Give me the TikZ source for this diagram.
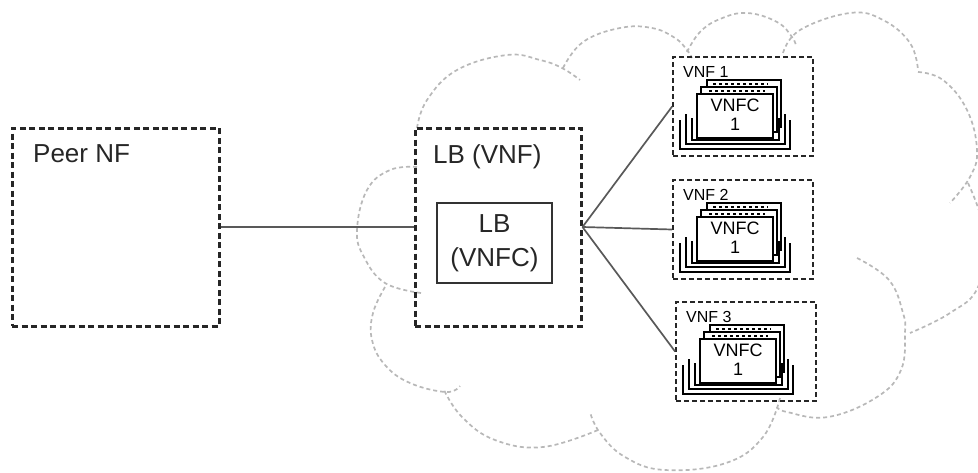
\documentclass[tikz,border=0pt]{standalone}
\usepackage{fontspec}
\setmainfont{Liberation Sans}
\newcommand\bigfont{\fontsize{26}{34}\selectfont}
\newcommand\vnffont{\fontsize{16}{18}\selectfont}
\newcommand\vnfcfont{\fontsize{18}{19}\selectfont}
\newcommand\vnfunit[4]{%
  \node[vnfbox] (#1) at (#2+70,#3+49.5) {};
  \begin{scope}[shift={(#2,#3)}]
    \draw[card] (34,23) rectangle (108,70);
    \draw[card] (28,30) rectangle (104,75);
    \draw[frag] (40,27) -- (95,27);
    \draw[frag] (36,34) -- (92,34);
    \draw[card] (24,37) rectangle (100,81);
    \draw[tray] (19,61) -- (19,83) -- (106,83) -- (106,61);
    \draw[tray] (13,57) -- (13,87) -- (112,87) -- (112,57);
    \draw[tray] (7,63) -- (7,92) -- (117,92) -- (117,63);
    \node[anchor=base west, font=\vnffont, inner sep=0pt] (#1-label) at (10,20) {VNF #4};
    \node[anchor=base, font=\vnfcfont, inner sep=0pt] (#1-c) at (62,54) {VNFC};
    \node[anchor=base, font=\vnfcfont, inner sep=0pt] (#1-n) at (62,73) {1};
  \end{scope}}
\begin{document}
\begin{tikzpicture}[x=1pt,y=-1pt,
  bigbox/.style={draw=black!85, line width=3pt, dash pattern=on 6pt off 3.5pt, inner sep=0pt},
  vnfbox/.style={draw=black!85, line width=1.8pt, dash pattern=on 5pt off 3pt, minimum width=140pt, minimum height=99pt, inner sep=0pt},
  link/.style={draw=black!65, line width=1.7pt},
  cloudline/.style={draw=black!28, line width=1.7pt, dash pattern=on 4pt off 3pt},
  card/.style={draw=black, line width=1.3pt, fill=white},
  frag/.style={draw=black, line width=1.3pt, dash pattern=on 3pt off 3pt},
  tray/.style={draw=black, line width=2.6pt},
  txt/.style={text=black!85, inner sep=0pt},
]
\useasboundingbox (0,0) rectangle (978,472);
\clip (0,0) rectangle (978,472);
% cloud
\draw[cloudline] plot[smooth, tension=0.7] coordinates {(417,128) (427,100) (457,70) (507,55) (540,60) (562,68) (580,80)};
\draw[cloudline] plot[smooth, tension=0.7] coordinates {(563,68) (583,42) (620,28) (652,28) (675,38) (687,50) (692,58)};
\draw[cloudline] plot[smooth, tension=0.7] coordinates {(687,52) (700,32) (720,19) (747,13) (777,22) (792,37) (796,46)};
\draw[cloudline] plot[smooth, tension=0.7] coordinates {(783,53) (800,30) (850,13) (883,20) (910,43) (918,70)};
\draw[cloudline] plot[smooth, tension=0.7] coordinates {(918,72) (943,80) (967,110) (977,150) (970,177) (950,203)};
\draw[cloudline] plot[smooth, tension=0.7] coordinates {(968,183) (985,235) (978,287) (950,313) (910,333)};
\draw[cloudline] plot[smooth, tension=0.7] coordinates {(857,258) (889,280) (903,313) (905,333) (901,370) (877,397) (828,417) (787,412) (777,407)};
\draw[cloudline] plot[smooth, tension=0.7] coordinates {(780,398) (763,437) (726,463) (665,470) (625,457) (600,433) (590,412)};
\draw[cloudline] plot[smooth, tension=0.7] coordinates {(598,430) (543,447) (495,440) (462,417) (444,390)};
\draw[cloudline] plot[smooth, tension=0.7] coordinates {(385,287) (373,313) (372,340) (385,365) (410,383) (446,392) (460,386)};
\draw[cloudline] plot[smooth, tension=0.7] coordinates {(417,167) (390,170) (367,190) (357,230) (364,257) (385,283) (421,293)};
% boxes
\node[bigbox, minimum width=207pt, minimum height=198pt] (peer) at (115.5,227) {};
\node[txt, anchor=base west, font=\bigfont] (peerlabel) at (33,162) {Peer NF};
\node[bigbox, minimum width=166pt, minimum height=198pt] (lbvnf) at (498,227) {};
\node[txt, anchor=base west, font=\bigfont] (lblabel) at (433,163) {LB (VNF)};
\node[draw=black!80, line width=1.8pt, minimum width=115pt, minimum height=80pt, align=center, font=\bigfont, txt] (lbvnfc) at (494.5,243) {LB\\(VNFC)};
\vnfunit{vnf1}{673}{57}{1}
\vnfunit{vnf2}{673}{180}{2}
\vnfunit{vnf3}{676}{302}{3}
% links
\draw[link] (peer.east) -- (lbvnf.west);
\draw[link] (lbvnf.east) -- (vnf1.west);
\draw[link] (lbvnf.east) -- (vnf2.west);
\draw[link] (lbvnf.east) -- (vnf3.west);
\end{tikzpicture}
\end{document}
